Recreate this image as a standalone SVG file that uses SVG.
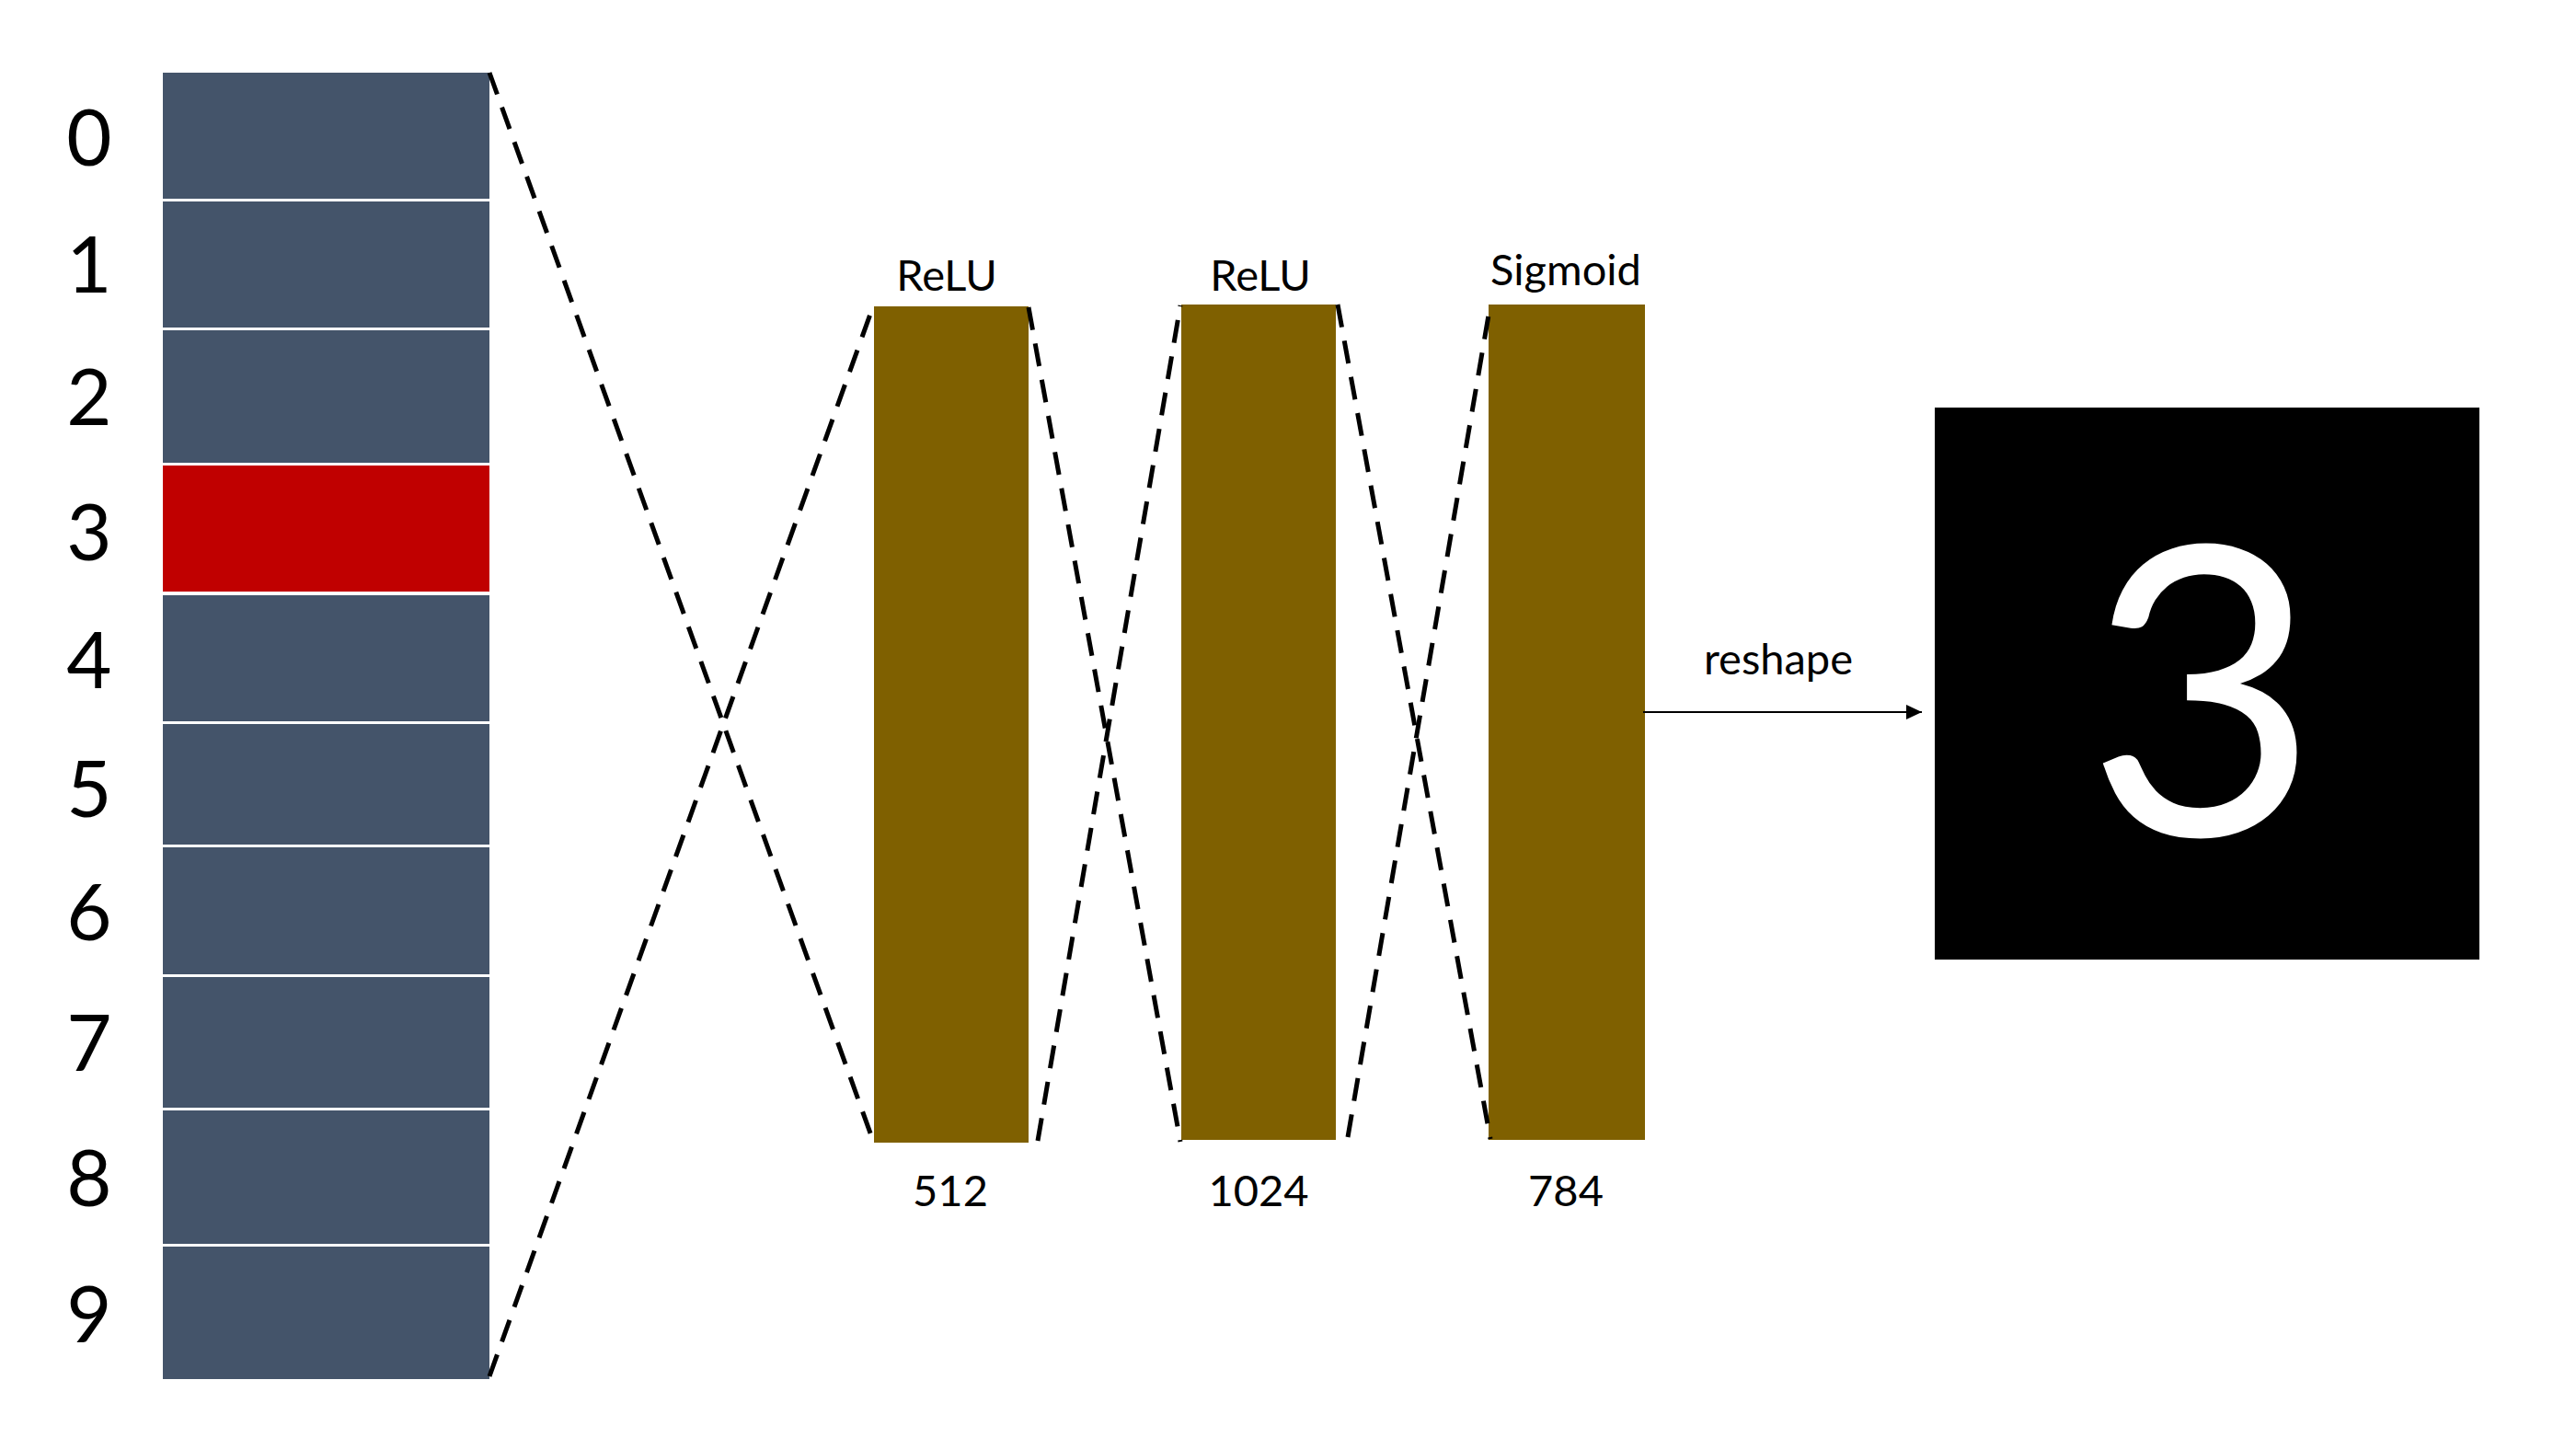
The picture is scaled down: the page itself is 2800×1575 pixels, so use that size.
<svg xmlns="http://www.w3.org/2000/svg" width="2800" height="1575" viewBox="0 0 2800 1575">
<defs>
<style>
.cell{fill:#44546A}
.hot{fill:#C00000}
.bar{fill:#7F6000}
.t{font-family:Lato,"Open Sans","Liberation Sans",sans-serif;fill:#000}
.digit{font-size:85px;text-anchor:middle}
.lbl{font-size:47px;text-anchor:middle}
.dash{stroke:#000;stroke-width:5;stroke-dasharray:25 15;fill:none}
.arr{stroke:#000;stroke-width:1.8;fill:none}
</style>
<marker id="ah" markerWidth="18" markerHeight="16" refX="17" refY="8" orient="auto" markerUnits="userSpaceOnUse">
<path d="M0,0 L17,8 L0,16 Z" fill="#000"/>
</marker>
</defs>
<rect width="2800" height="1575" fill="#fff"/>
<g id="onehot">
<rect class="cell" x="177" y="79" width="355" height="137"/>
<rect class="cell" x="177" y="219" width="355" height="137"/>
<rect class="cell" x="177" y="359" width="355" height="144"/>
<rect class="hot" x="177" y="506" width="355" height="137"/>
<rect class="cell" x="177" y="647" width="355" height="137"/>
<rect class="cell" x="177" y="787" width="355" height="131"/>
<rect class="cell" x="177" y="921" width="355" height="138"/>
<rect class="cell" x="177" y="1062" width="355" height="142"/>
<rect class="cell" x="177" y="1207" width="355" height="145"/>
<rect class="cell" x="177" y="1355" width="355" height="144"/>
</g>
<g id="digits" class="t digit">
<text x="97" y="180">0</text>
<text x="97" y="318">1</text>
<text x="97" y="462">2</text>
<text x="97" y="609">3</text>
<text x="97" y="748">4</text>
<text x="97" y="888">5</text>
<text x="97" y="1022">6</text>
<text x="97" y="1164">7</text>
<text x="97" y="1311">8</text>
<text x="97" y="1459">9</text>
</g>
<g id="layer1">
<rect class="bar" x="950" y="333" width="168" height="909"/>
<text class="t lbl" x="1029" y="316">ReLU</text>
<text class="t lbl" x="1033" y="1311">512</text>
</g>
<g id="layer2">
<rect class="bar" x="1284" y="331" width="168" height="908"/>
<text class="t lbl" x="1370" y="316">ReLU</text>
<text class="t lbl" x="1368" y="1311">1024</text>
</g>
<g id="layer3">
<rect class="bar" x="1618" y="331" width="170" height="908"/>
<text class="t lbl" x="1702" y="310">Sigmoid</text>
<text class="t lbl" x="1702" y="1311">784</text>
</g>
<g id="image">
<rect x="2103" y="443" width="592" height="600" fill="#000"/>
<text class="t" x="2394" y="908" font-size="438" text-anchor="middle" style="fill:#fff">3</text>
</g>
<g id="connectors">
<line class="dash" x1="532" y1="79" x2="949" y2="1240"/>
<line class="dash" x1="532" y1="1496" x2="949" y2="333"/>
<line class="dash" x1="1118" y1="334" x2="1283" y2="1241"/>
<line class="dash" x1="1128" y1="1240" x2="1283" y2="332"/>
<line class="dash" x1="1454" y1="331" x2="1620" y2="1238"/>
<line class="dash" x1="1465" y1="1236" x2="1620" y2="331"/>
<line class="arr" x1="1786" y1="774" x2="2089" y2="774" marker-end="url(#ah)"/>
<text class="t lbl" x="1933" y="733">reshape</text>
</g>
</svg>
